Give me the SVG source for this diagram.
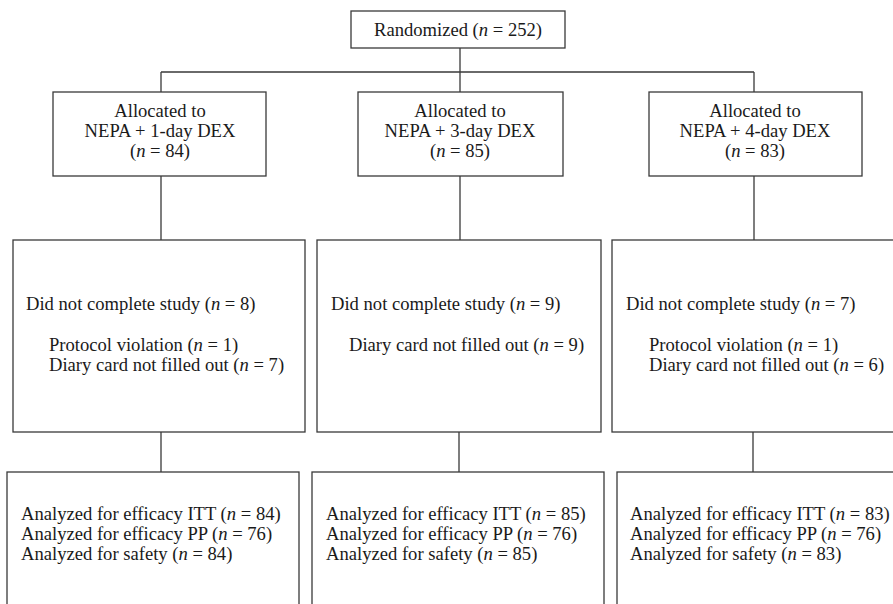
<svg xmlns="http://www.w3.org/2000/svg" width="893" height="604" viewBox="0 0 893 604">
<style>
.box{fill:#fff;stroke:#3a3a3a;stroke-width:1.3}
.ln{fill:none;stroke:#3a3a3a;stroke-width:1.3}
text{font-family:"Liberation Serif","Times New Roman",serif;font-size:18.6px;fill:#1a1a1a}
.c{text-anchor:middle}
.i{font-style:italic}
</style>
<rect width="893" height="604" fill="#fff"/>
<g id="connectors">
<path class="ln" d="M460 48V72M161 72H754M161 72V92M460 72V92M754 72V92"/>
<path class="ln" d="M161 176V240M460 176V240M754 176V240"/>
<path class="ln" d="M161 432V472M459 432V472M753 432V472"/>
</g>
<g id="randomized">
<rect class="box" x="351" y="11" width="214" height="37"/>
<text class="c" x="458" y="36">Randomized (<tspan class="i">n</tspan> = 252)</text>
</g>
<g id="alloc1">
<rect class="box" x="53" y="92" width="213" height="84"/>
<text class="c" x="160" y="117">Allocated to</text>
<text class="c" x="160" y="137">NEPA + 1-day DEX</text>
<text class="c" x="160" y="157">(<tspan class="i">n</tspan> = 84)</text>
</g>
<g id="alloc2">
<rect class="box" x="358" y="92" width="205" height="84"/>
<text class="c" x="460" y="117">Allocated to</text>
<text class="c" x="460" y="137">NEPA + 3-day DEX</text>
<text class="c" x="460" y="157">(<tspan class="i">n</tspan> = 85)</text>
</g>
<g id="alloc3">
<rect class="box" x="649" y="92" width="213" height="84"/>
<text class="c" x="755" y="117">Allocated to</text>
<text class="c" x="755" y="137">NEPA + 4-day DEX</text>
<text class="c" x="755" y="157">(<tspan class="i">n</tspan> = 83)</text>
</g>
<g id="excl1">
<rect class="box" x="13" y="240" width="292" height="192"/>
<text x="26" y="310">Did not complete study (<tspan class="i">n</tspan> = 8)</text>
<text x="49" y="351">Protocol violation (<tspan class="i">n</tspan> = 1)</text>
<text x="49" y="371">Diary card not filled out (<tspan class="i">n</tspan> = 7)</text>
</g>
<g id="excl2">
<rect class="box" x="317" y="240" width="284" height="192"/>
<text x="331" y="310">Did not complete study (<tspan class="i">n</tspan> = 9)</text>
<text x="349" y="351">Diary card not filled out (<tspan class="i">n</tspan> = 9)</text>
</g>
<g id="excl3">
<rect class="box" x="612" y="240" width="290" height="192"/>
<text x="626" y="310">Did not complete study (<tspan class="i">n</tspan> = 7)</text>
<text x="649" y="351">Protocol violation (<tspan class="i">n</tspan> = 1)</text>
<text x="649" y="371">Diary card not filled out (<tspan class="i">n</tspan> = 6)</text>
</g>
<g id="anal1">
<rect class="box" x="7" y="472" width="292" height="150"/>
<text x="21" y="520">Analyzed for efficacy ITT (<tspan class="i">n</tspan> = 84)</text>
<text x="21" y="540">Analyzed for efficacy PP (<tspan class="i">n</tspan> = 76)</text>
<text x="21" y="560">Analyzed for safety (<tspan class="i">n</tspan> = 84)</text>
</g>
<g id="anal2">
<rect class="box" x="312" y="472" width="292" height="150"/>
<text x="326" y="520">Analyzed for efficacy ITT (<tspan class="i">n</tspan> = 85)</text>
<text x="326" y="540">Analyzed for efficacy PP (<tspan class="i">n</tspan> = 76)</text>
<text x="326" y="560">Analyzed for safety (<tspan class="i">n</tspan> = 85)</text>
</g>
<g id="anal3">
<rect class="box" x="617" y="472" width="292" height="150"/>
<text x="630" y="520">Analyzed for efficacy ITT (<tspan class="i">n</tspan> = 83)</text>
<text x="630" y="540">Analyzed for efficacy PP (<tspan class="i">n</tspan> = 76)</text>
<text x="630" y="560">Analyzed for safety (<tspan class="i">n</tspan> = 83)</text>
</g>
</svg>
